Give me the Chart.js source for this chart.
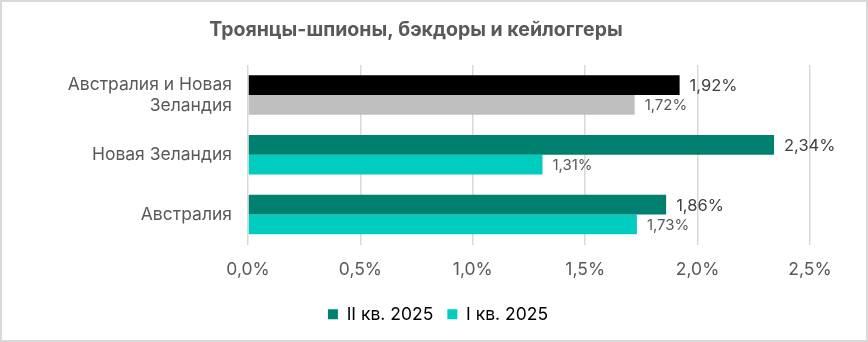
<!DOCTYPE html>
<html>
<head>
<meta charset="utf-8">
<script src="https://cdn.jsdelivr.net/npm/chart.js@4"></script>
<style>
  html, body { margin: 0; padding: 0; background: #fff; }
  #wrap { width: 868px; height: 342px; }
</style>
</head>
<body>
<div id="wrap"><canvas id="chart" width="868" height="342"></canvas></div>
<script>
const categories = [['Австралия и Новая', 'Зеландия'], 'Новая Зеландия', 'Австралия'];
const seriesNames = ['II кв. 2025', 'I кв. 2025'];
const q2Values = [1.92, 2.34, 1.86];
const q1Values = [1.72, 1.31, 1.73];
const xTicks = [0, 0.5, 1.0, 1.5, 2.0, 2.5];

const q2Colors = ['#000000', '#00806E', '#00806E'];
const q1Colors = ['#BFBFBF', '#00CCBF', '#00CCBF'];
const legendColors = ['#00806E', '#00CCBF'];

const FONT = 'Inter';
const fmt = v => v.toFixed(2).replace('.', ',') + '%';

// white background, grey frame and the title
const frame = {
    id: 'frame',
    beforeDraw(chart) {
        const c = chart.ctx;
        c.save();
        c.fillStyle = '#fff';
        c.fillRect(0, 0, chart.width, chart.height);
        c.strokeStyle = '#d9d9d9';
        c.lineWidth = 2;
        c.strokeRect(1, 1, chart.width - 2, chart.height - 2);
        c.fillStyle = '#595959';
        c.font = 'bold 19.5px ' + FONT;
        c.textAlign = 'center';
        c.textBaseline = 'middle';
        c.fillText('Троянцы-шпионы, бэкдоры и кейлоггеры', 416, 30);
        c.restore();
    }
};

// value labels at the end of each bar
const barLabels = {
    id: 'barLabels',
    afterDatasetsDraw(chart) {
        const c = chart.ctx;
        c.save();
        c.textAlign = 'left';
        c.textBaseline = 'middle';
        chart.data.datasets.forEach((ds, i) => {
            const meta = chart.getDatasetMeta(i);
            c.font = (i === 0 ? '16.5px ' : '15px ') + FONT;
            c.fillStyle = i === 0 ? '#404040' : '#595959';
            meta.data.forEach((bar, j) => {
                c.fillText(fmt(ds.data[j]), bar.x + 10, bar.y + 1);
            });
        });
        c.restore();
    }
};

new Chart(document.getElementById('chart'), {
    type: 'bar',
    data: {
        labels: categories,
        datasets: [
            { label: seriesNames[0], data: q2Values, backgroundColor: q2Colors },
            { label: seriesNames[1], data: q1Values, backgroundColor: q1Colors }
        ]
    },
    options: {
        indexAxis: 'y',
        responsive: false,
        animation: false,
        categoryPercentage: 0.66,
        barPercentage: 1,
        layout: { padding: { top: 65, right: 58, bottom: 9, left: 66 } },
        plugins: {
            title: { display: false },
            tooltip: { enabled: false },
            legend: {
                display: true,
                position: 'bottom',
                labels: {
                    font: { family: FONT, size: 17.5 },
                    color: '#595959',
                    boxWidth: 10,
                    boxHeight: 10,
                    padding: 14,
                    generateLabels: chart => chart.data.datasets.map((ds, i) => ({
                        text: ds.label,
                        fillStyle: legendColors[i],
                        strokeStyle: legendColors[i],
                        lineWidth: 0,
                        datasetIndex: i
                    }))
                }
            }
        },
        scales: {
            x: {
                min: 0,
                max: 2.5,
                afterBuildTicks: s => { s.ticks = xTicks.map(v => ({ value: v })); },
                afterFit: s => { s.height = 47; },
                grid: { color: '#d9d9d9', lineWidth: 1.5, drawTicks: false },
                border: { display: false },
                ticks: {
                    padding: 15,
                    color: '#595959',
                    font: { family: FONT, size: 17.5 },
                    callback: v => v.toFixed(1).replace('.', ',') + '%'
                }
            },
            y: {
                afterFit: s => { s.width = 182; },
                grid: { display: false, drawTicks: false },
                border: { display: false },
                ticks: {
                    padding: 16,
                    color: '#595959',
                    font: { family: FONT, size: 17.5 }
                }
            }
        }
    },
    plugins: [frame, barLabels]
});
</script>
</body>
</html>
